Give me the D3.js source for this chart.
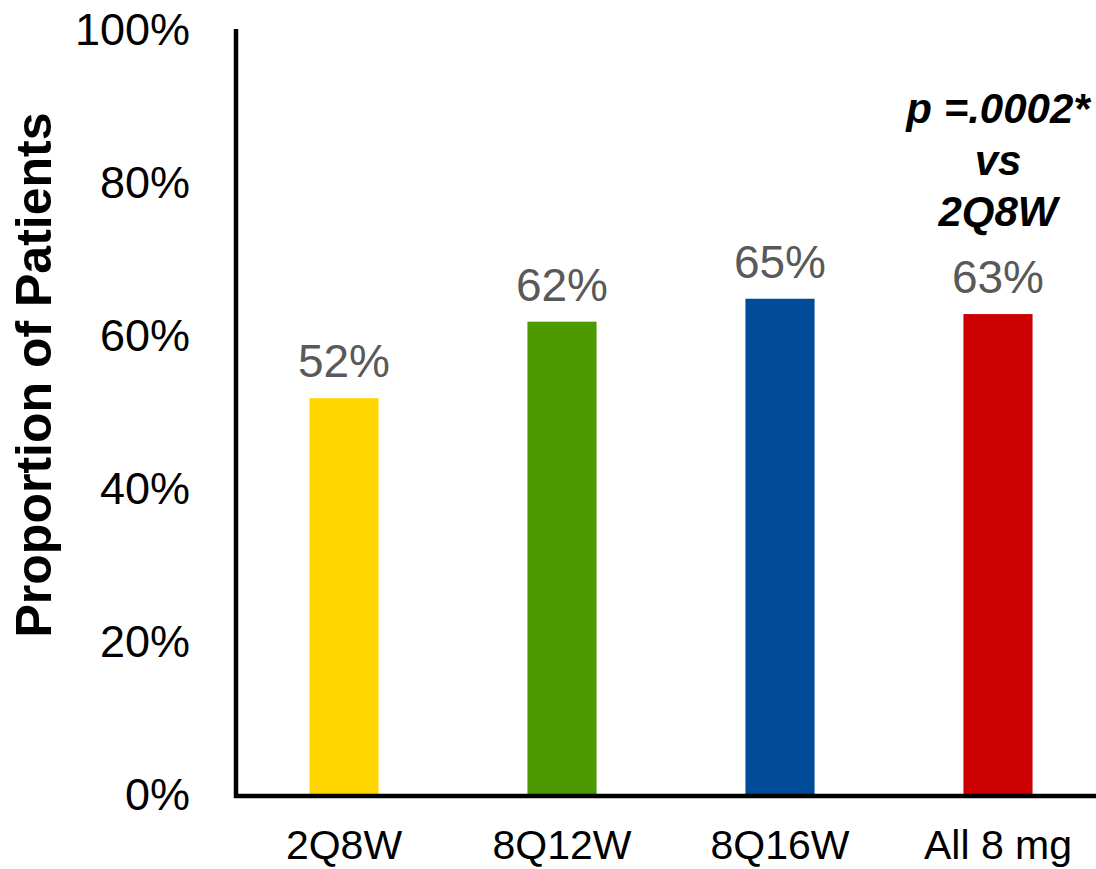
<!DOCTYPE html>
<html>
<head>
<meta charset="utf-8">
<script src="https://cdn.jsdelivr.net/npm/d3@7"></script>
<style>
  html, body { margin: 0; padding: 0; background: #fff; }
  svg { display: block; font-family: "Liberation Sans", Arial, sans-serif; }
</style>
</head>
<body>
<svg id="chart" width="1096" height="869"></svg>
<script>
// Response proportion by dosing group
const groups = ["2Q8W", "8Q12W", "8Q16W", "All 8 mg"];
const proportions = [52, 62, 65, 63];
const barColors = ["#FFD500", "#4C9900", "#004C99", "#CC0000"];
const yTicks = [0, 20, 40, 60, 80, 100];
const annotationLines = ["p =.0002*", "vs", "2Q8W"];

const svg = d3.select("#chart");

const x = d3.scaleBand()
  .domain(groups)
  .range([235, 1107])
  .paddingInner(0.683)
  .paddingOuter(0.3415);

const y = d3.scaleLinear()
  .domain([0, 100])
  .range([796, 31]);

// Bars
svg.append("g")
  .selectAll("rect")
  .data(groups)
  .join("rect")
  .attr("x", d => x(d))
  .attr("width", x.bandwidth())
  .attr("y", (d, i) => y(proportions[i]))
  .attr("height", (d, i) => y(0) - y(proportions[i]))
  .attr("fill", (d, i) => barColors[i]);

// Value labels
svg.append("g")
  .selectAll("text")
  .data(groups)
  .join("text")
  .attr("x", d => x(d) + x.bandwidth() / 2)
  .attr("y", (d, i) => y(proportions[i]) - 21)
  .attr("text-anchor", "middle")
  .attr("font-size", 46)
  .attr("fill", "#595959")
  .text((d, i) => proportions[i] + "%");

// Y axis
const yAxis = svg.append("g")
  .attr("transform", "translate(236,0)")
  .call(d3.axisLeft(y)
    .tickValues(yTicks)
    .tickFormat(d => d + "%")
    .tickSize(0)
    .tickPadding(46));
yAxis.select(".domain").attr("stroke", "#000").attr("stroke-width", 4.5)
  .attr("d", "M0,29V798");
yAxis.selectAll("text")
  .attr("font-size", 45)
  .attr("font-family", "'Liberation Sans', Arial, sans-serif")
  .attr("fill", "#000")
  .attr("dy", null)
  .attr("y", 13);

// X axis
const xAxis = svg.append("g")
  .attr("transform", "translate(0,796)")
  .call(d3.axisBottom(x).tickSize(0).tickPadding(34));
xAxis.select(".domain").attr("stroke", "#000").attr("stroke-width", 4.5)
  .attr("d", "M234,0H1096");
xAxis.selectAll("text")
  .attr("font-size", 41)
  .attr("font-family", "'Liberation Sans', Arial, sans-serif")
  .attr("fill", "#000");

// Y axis title
svg.append("text")
  .attr("transform", "translate(51,375) rotate(-90)")
  .attr("text-anchor", "middle")
  .attr("font-size", 50)
  .attr("font-weight", "bold")
  .attr("fill", "#000")
  .text("Proportion of Patients");

// Significance annotation above the pooled 8 mg bar
const last = groups[groups.length - 1];
svg.append("g")
  .selectAll("text")
  .data(annotationLines)
  .join("text")
  .attr("x", x(last) + x.bandwidth() / 2)
  .attr("y", (d, i) => 123 + i * 51.5)
  .attr("text-anchor", "middle")
  .attr("font-size", 42)
  .attr("font-weight", "bold")
  .attr("font-style", "italic")
  .attr("fill", "#000")
  .text(d => d);
</script>
</body>
</html>
